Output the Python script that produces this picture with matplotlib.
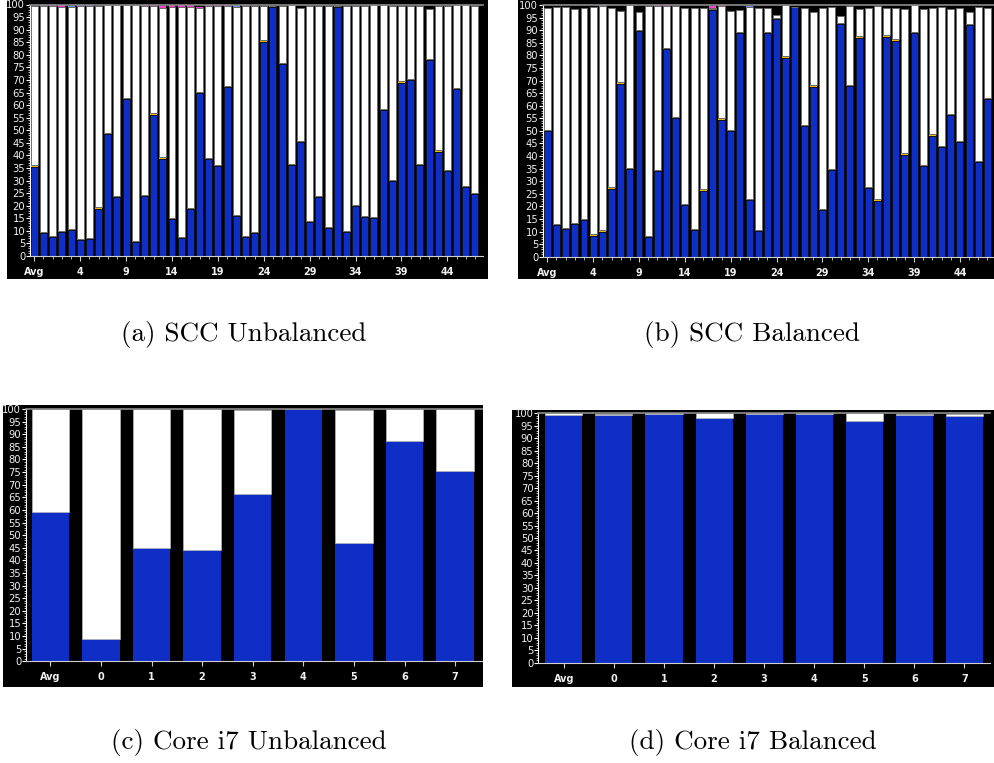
import matplotlib
matplotlib.use("Agg")
import matplotlib.pyplot as plt
from matplotlib.patches import Rectangle
from matplotlib.ticker import FixedLocator, MultipleLocator

W, H = 994, 763

# per-core utilisation (percent); first entry is the average
scc_labels = ["Avg"] + [str(c) for c in range(4, 48, 5)]
i7_labels = ["Avg", "0", "1", "2", "3", "4", "5", "6", "7"]

busy_a = [35.5, 9.0, 7.5, 9.5, 10.3, 6.2, 6.8, 18.8, 48.5, 23.4, 62.3, 5.6,
          23.8, 56.2, 38.7, 14.8, 7.2, 18.5, 64.8, 38.6, 35.6, 67.0, 15.8,
          7.6, 9.2, 85.2, 98.9, 76.2, 36.0, 45.3, 13.4, 23.4, 11.2, 98.9,
          9.5, 19.7, 15.4, 15.0, 58.0, 29.8, 68.9, 69.9, 36.0, 78.0, 41.5,
          33.8, 66.3, 27.4, 24.7]
top_a = [99.5, 99.5, 99.5, 99.2, 99.0, 99.5, 99.3, 99.3, 99.8, 99.8, 99.8,
         99.7, 99.5, 99.5, 98.8, 99.2, 99.2, 99.2, 98.6, 99.3, 99.3, 99.6,
         99.2, 99.5, 99.6, 99.3, 98.9, 99.6, 99.7, 98.8, 99.5, 99.6, 99.6,
         98.9, 99.6, 99.6, 99.6, 100.0, 99.8, 99.5, 99.5, 99.5, 99.6, 98.2,
         99.6, 99.6, 99.9, 99.7, 99.5]
sys_a = [0.5, 0.5, 0.5, 0.5, 0.5, 0.5, 0.5, 0.5, 0.5, 0.5, 0.5, 0.5, 0.5,
         0.5, 0.5, 0.5, 0.5, 0.5, 0.5, 0.5, 0.5, 0.5, 0.5, 0.5, 0.5, 0.5,
         0.4, 0.5, 0.5, 0.5, 0.5, 0.5, 0.5, 0.4, 0.5, 0.5, 0.5, 0.5, 0.5,
         0.5, 0.5, 0.5, 0.5, 0.5, 0.5, 0.5, 0.5, 0.5, 0.5]
irq_a = [0, 0, 0.5, 0.5, 0, 0, 0, 0, 0, 0, 0, 0, 0.5, 0.5, 0.5, 0.5, 0.5,
         0.5, 0.5, 0.5, 0.5, 0.5, 0, 0.5, 0, 0, 0, 0, 0, 0, 0, 0, 0, 0, 0,
         0, 0, 0, 0, 0, 0, 0, 0, 0, 0, 0, 0, 0, 0]
net_a = [0, 0.5, 0, 0, 0.5, 0.5, 0.5, 0, 0.5, 0.5, 0.5, 0, 0, 0, 0, 0, 0,
         0, 0, 0, 0, 0, 0.5, 0, 0, 0, 0, 0, 0, 0, 0, 0, 0, 0, 0, 0, 0, 0,
         0, 0, 0, 0, 0, 0, 0, 0, 0.3, 0.5, 0]

busy_b = [49.9, 12.5, 11.0, 12.8, 14.5, 8.4, 10.0, 27.0, 68.8, 34.7, 89.5,
          7.9, 33.9, 82.5, 55.0, 20.5, 10.5, 26.2, 98.0, 54.5, 49.9, 88.7,
          22.6, 10.2, 88.8, 94.4, 79.1, 99.1, 51.9, 67.6, 18.6, 34.3, 92.4,
          67.8, 87.0, 27.3, 22.3, 87.4, 85.8, 40.6, 88.7, 35.9, 48.1, 43.5,
          56.2, 45.5, 92.0, 37.5, 62.5]
top_b = [98.7, 99.1, 99.1, 98.4, 98.7, 99.1, 99.5, 98.7, 97.7, 100.0, 97.1,
         99.5, 99.5, 99.5, 99.5, 98.7, 98.7, 98.7, 99.0, 99.5, 97.5, 98.2,
         99.1, 99.0, 99.0, 96.1, 100.0, 99.4, 99.0, 97.1, 98.9, 99.1, 95.5,
         99.7, 98.6, 99.0, 99.7, 98.8, 98.8, 98.6, 100.0, 98.6, 99.0, 99.2,
         98.4, 99.0, 97.3, 99.2, 98.9]
sys_b = [0.5, 0.5, 0.5, 0.5, 0.5, 0.5, 0.5, 0.5, 0.5, 0.5, 0.5, 0.5, 0.5,
         0.5, 0.5, 0.5, 0.5, 0.5, 0.5, 0.5, 0.5, 0.5, 0.5, 0.5, 0.5, 0.5,
         0.5, 0.3, 0.5, 0.5, 0.5, 0.5, 0.5, 0.5, 0.5, 0.5, 0.5, 0.5, 0.5,
         0.5, 0.5, 0.5, 0.5, 0.5, 0.5, 0.5, 0.5, 0.5, 0.5]
irq_b = [0, 0, 0, 0, 0, 0, 0, 0, 0, 0, 0, 0, 0.5, 0.5, 0, 0, 0, 0, 0.5, 0.5,
         0, 0, 0, 0, 0, 0, 0, 0, 0, 0, 0, 0, 0, 0, 0, 0, 0, 0, 0, 0, 0, 0,
         0, 0, 0, 0, 0, 0, 0]
net_b = [0, 0, 0, 0, 0, 0, 0.5, 0, 0, 0.5, 0, 0, 0, 0, 0, 0, 0, 0, 0, 0, 0,
         0, 0.5, 0, 0, 0, 0, 0, 0, 0, 0, 0, 0, 0, 0, 0, 0, 0, 0, 0, 0, 0, 0,
         0, 0, 0, 0, 0, 0]

busy_c = [59.0, 8.7, 44.9, 44.2, 66.4, 100.0, 46.8, 87.3, 75.3]
top_c = [100.0, 100.0, 100.0, 100.0, 99.6, 100.0, 99.6, 100.0, 100.0]

busy_d = [99.2, 99.4, 99.9, 98.2, 99.8, 99.9, 97.1, 99.5, 98.9]
top_d = [100.0, 99.7, 100.0, 100.0, 100.0, 100.0, 100.0, 99.8, 99.7]

BLUE = "#0e2ec6"
ORANGE = "#f2b705"
PINK = "#ff3fd0"
NETBLUE = "#6f8cff"


def box(x0, y0, x1, y1):
    return [x0 / W, 1 - y1 / H, (x1 - x0) / W, (y1 - y0) / H]


def style_axes(ax, xlim, labels, label_pos, n):
    ax.set_facecolor("black")
    ax.set_xlim(*xlim)
    ax.set_ylim(0, 100)
    ax.spines["right"].set_visible(False)
    ax.spines["top"].set_color("#8c8c8c")
    ax.spines["top"].set_linewidth(1.2)
    ax.spines["left"].set_color("white")
    ax.spines["bottom"].set_color("#d0d0d0")
    ax.yaxis.set_major_locator(MultipleLocator(5))
    ax.yaxis.set_minor_locator(MultipleLocator(1))
    ax.xaxis.set_major_locator(FixedLocator(label_pos))
    ax.xaxis.set_minor_locator(FixedLocator(list(range(n))))
    ax.set_xticklabels(labels)
    ax.tick_params(axis="y", which="major", colors="white", length=3,
                   width=0.8, pad=0.5, labelsize=7.2)
    ax.tick_params(axis="y", which="minor", colors="white", length=1.5,
                   width=0.5)
    ax.tick_params(axis="x", which="major", colors="#d0d0d0", length=3.5,
                   width=0.8, pad=4.5, labelsize=7)
    ax.tick_params(axis="x", which="minor", colors="#d0d0d0", length=1.8,
                   width=0.6)
    for t in ax.get_xticklabels():
        t.set_fontweight("bold")
        t.set_color("#f0f0f0")
    for t in ax.get_yticklabels():
        t.set_color("#f0f0f0")


def scc_panel(ax, busy, top, sys_, irq, net, xlim):
    n = len(busy)
    x = list(range(n))
    w = 0.76
    sys_bottom = busy
    idle_bottom = [b + s for b, s in zip(busy, sys_)]
    idle = [max(t - b, 0) for t, b in zip(top, idle_bottom)]
    cap_bottom = [max(t, b) for t, b in zip(top, idle_bottom)]
    ax.bar(x, busy, width=w, color=BLUE, edgecolor="#101010", linewidth=0.5)
    ax.bar(x, sys_, bottom=sys_bottom, width=w, color=ORANGE, linewidth=0)
    ax.bar(x, idle, bottom=idle_bottom, width=w, color="white",
           edgecolor="#6a6a6a", linewidth=0.7)
    ax.bar(x, irq, bottom=cap_bottom, width=w, color=PINK, linewidth=0)
    ax.bar(x, net, bottom=cap_bottom, width=w, color=NETBLUE, linewidth=0)
    style_axes(ax, xlim, scc_labels, list(range(0, n, 5)), n)


def i7_panel(ax, busy, top, xlim):
    x = list(range(len(busy)))
    w = 0.74
    idle = [max(t - b, 0) for t, b in zip(top, busy)]
    ax.bar(x, busy, width=w, color=BLUE, linewidth=0)
    ax.bar(x, idle, bottom=busy, width=w, color="white",
           edgecolor="#b8b8b8", linewidth=0.5)
    style_axes(ax, xlim, i7_labels, x, len(busy))


fig = plt.figure(figsize=(W / 100, H / 100), dpi=100)
fig.patch.set_facecolor("white")

# black backdrops behind each panel
for x0, y0, x1, y1 in [(7, 0, 488, 279), (518, 0, 994, 279),
                       (3, 405, 483, 687), (512, 410, 994, 687)]:
    fig.add_artist(Rectangle((x0 / W, 1 - y1 / H), (x1 - x0) / W,
                             (y1 - y0) / H, transform=fig.transFigure,
                             facecolor="black", edgecolor="none", zorder=0))

ax_a = fig.add_axes(box(30, 4.5, 483, 256))
scc_panel(ax_a, busy_a, top_a, sys_a, irq_a, net_a, (-0.47, 48.88))

ax_b = fig.add_axes(box(543, 5, 994, 256.7))
scc_panel(ax_b, busy_b, top_b, sys_b, irq_b, net_b, (-0.47, 48.71))

ax_c = fig.add_axes(box(26, 409, 482, 661.3))
i7_panel(ax_c, busy_c, top_c, (-0.48, 8.53))

ax_d = fig.add_axes(box(538.3, 413.3, 990, 662.7))
i7_panel(ax_d, busy_d, top_d, (-0.51, 8.51))

captions = [("(a) SCC Unbalanced", 243.5, 335),
            ("(b) SCC Balanced", 752.5, 335),
            ("(c) Core i7 Unbalanced", 248.5, 743),
            ("(d) Core i7 Balanced", 753, 743)]
for text, cx, cy in captions:
    fig.text(cx / W, 1 - cy / H, text, ha="center", va="center",
             family="cmr10", fontsize=19.5, color="black")

fig.savefig("out.png", dpi=100, facecolor="white")
